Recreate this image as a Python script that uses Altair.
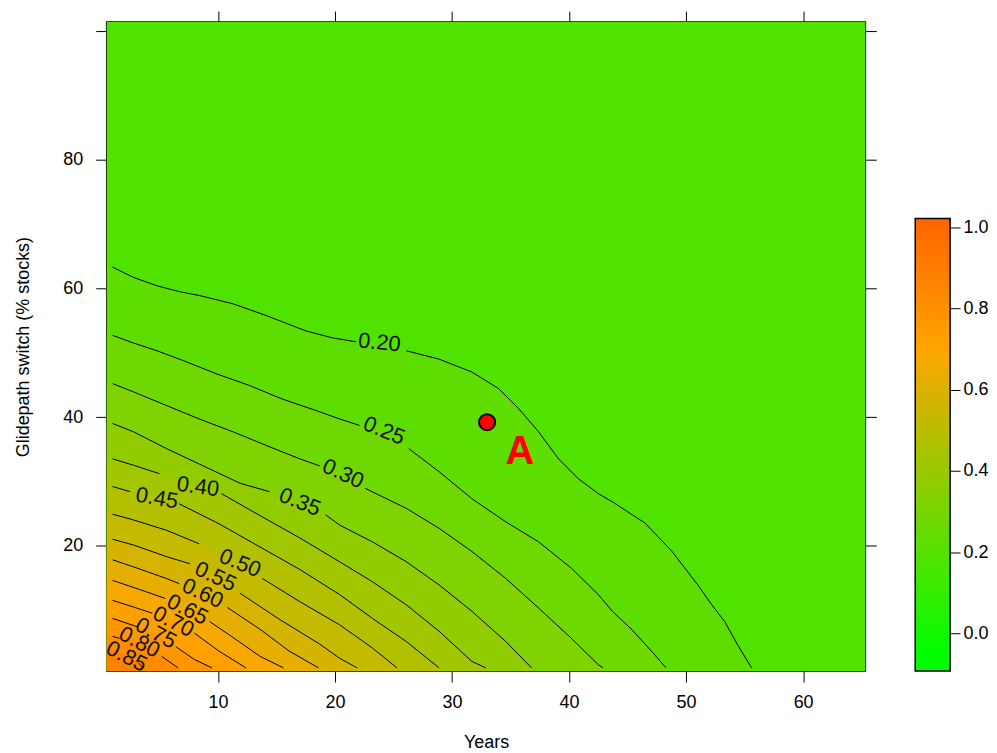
import altair as alt
import pandas as pd

# ---------------- data ----------------
X_MIN, X_MAX = 0.5, 65.32
Y_MIN, Y_MAX = 0.5, 101.4

X_TICKS = [10, 20, 30, 40, 50, 60]
Y_TICKS = [20, 40, 60, 80, 100]
CBAR_TICKS = [0.0, 0.2, 0.4, 0.6, 0.8, 1.0]
CBAR_MIN, CBAR_MAX = -0.093, 1.022

LEVELS = [0.20, 0.25, 0.30, 0.35, 0.40, 0.45, 0.50, 0.55, 0.60, 0.65, 0.70, 0.75, 0.80, 0.85]
BACKGROUND_VALUE = 0.185

# contour lines: x (years), y (% stocks); the point at LABEL_IDX is where the label sits
C020_X = [1.0, 2.8, 4.8, 6.7, 8.4, 11.3, 14.1, 17.5, 19.8, 21.8, 23.8, 26.1, 28.9, 31.7, 34.0, 35.7, 37.4, 39.1, 40.8, 42.5, 43.9, 45.4, 46.5, 47.6, 48.8, 49.9, 51.0, 52.2, 53.3, 54.4, 55.6]
C020_Y = [63.3, 61.7, 60.4, 59.5, 58.9, 57.6, 55.8, 53.4, 52.3, 51.7, 51.6, 50.3, 49.0, 47.0, 44.4, 41.3, 37.7, 33.5, 30.4, 28.1, 26.6, 24.8, 23.5, 21.4, 19.1, 16.5, 13.9, 10.8, 8.2, 4.6, 1.0]
C025_X = [1.0, 2.8, 4.8, 7.0, 9.9, 12.7, 15.5, 18.4, 20.4, 22.1, 24.2, 26.3, 28.9, 31.7, 34.6, 37.4, 40.2, 42.5, 43.7, 45.4, 46.8, 48.3]
C025_Y = [52.7, 51.5, 50.3, 48.8, 46.7, 44.9, 42.8, 41.0, 39.7, 38.7, 37.9, 35.1, 31.5, 27.3, 23.7, 20.6, 16.5, 12.4, 9.8, 6.9, 4.1, 1.0]
C030_X = [1.0, 2.8, 5.6, 8.4, 11.3, 14.1, 17.0, 18.7, 20.7, 22.6, 26.1, 28.9, 31.7, 34.6, 37.4, 40.2, 42.5, 42.9]
C030_Y = [45.2, 43.9, 41.8, 39.7, 37.7, 35.6, 33.5, 32.4, 31.2, 28.9, 25.8, 22.7, 19.1, 14.9, 10.3, 5.6, 1.5, 1.0]
C035_X = [1.0, 2.8, 5.6, 8.4, 11.9, 14.4, 17.0, 19.2, 20.4, 23.2, 26.1, 28.9, 31.7, 34.6, 36.8]
C035_Y = [39.0, 37.7, 35.1, 32.7, 29.7, 28.4, 26.8, 24.8, 23.2, 20.6, 17.5, 13.9, 9.8, 5.1, 1.0]
C040_X = [1.0, 2.8, 5.0, 8.3, 10.3, 12.7, 17.0, 20.4, 23.2, 26.1, 28.9, 31.7, 32.9]
C040_Y = [33.5, 32.5, 31.2, 29.2, 28.1, 25.6, 21.2, 17.5, 14.4, 10.8, 6.7, 2.0, 1.0]
C045_X = [1.0, 2.5, 4.8, 6.7, 10.1, 13.6, 17.0, 20.4, 23.2, 26.1, 28.9]
C045_Y = [29.2, 28.4, 27.4, 26.5, 23.4, 19.8, 16.3, 12.4, 8.7, 5.1, 1.0]
C050_X = [1.0, 2.8, 5.6, 8.4, 11.9, 13.8, 17.0, 20.4, 23.2, 25.3]
C050_Y = [24.9, 24.0, 22.4, 20.3, 17.3, 14.9, 11.3, 7.7, 4.1, 1.0]
C055_X = [1.0, 2.8, 5.6, 7.6, 9.8, 11.9, 15.3, 18.7, 20.4, 21.9]
C055_Y = [21.0, 20.1, 18.3, 17.2, 15.2, 12.6, 8.5, 4.7, 2.5, 1.0]
C060_X = [1.0, 2.8, 5.6, 6.7, 8.7, 10.8, 13.6, 16.1, 18.6]
C060_Y = [17.8, 16.7, 14.9, 14.1, 12.6, 10.4, 7.0, 3.6, 1.0]
C065_X = [1.0, 3.3, 5.5, 7.4, 9.3, 11.0, 13.6, 15.6]
C065_Y = [14.6, 13.2, 11.8, 10.1, 8.2, 6.1, 2.8, 1.0]
C070_X = [1.0, 2.9, 4.4, 6.2, 8.0, 10.1, 12.4]
C070_Y = [11.5, 10.4, 9.5, 8.2, 6.4, 3.6, 1.0]
C075_X = [1.0, 3.1, 4.7, 6.4, 8.0, 9.5]
C075_Y = [8.7, 7.4, 6.4, 4.3, 2.3, 1.0]
C080_X = [1.0, 1.6, 3.3, 5.2, 6.6]
C080_Y = [5.9, 5.6, 5.0, 2.8, 1.0]
C085_X = [1.0, 2.2, 3.2, 3.6]
C085_Y = [3.9, 2.8, 1.8, 1.0]

CONTOURS_X = [C020_X, C025_X, C030_X, C035_X, C040_X, C045_X, C050_X, C055_X, C060_X, C065_X, C070_X, C075_X, C080_X, C085_X]
CONTOURS_Y = [C020_Y, C025_Y, C030_Y, C035_Y, C040_Y, C045_Y, C050_Y, C055_Y, C060_Y, C065_Y, C070_Y, C075_Y, C080_Y, C085_Y]
LABEL_IDX = [10, 10, 8, 6, 3, 2, 4, 4, 4, 3, 3, 2, 2, 1]
LABEL_ANGLE = [6, 22, 25, 22, 8, 10, 22, 25, 25, 27, 27, 28, 28, 27]

POINT_A = (33.0, 39.2)
POINT_A_TEXT = (35.8, 34.6)

# ---------------- styling ----------------
FONT = "Liberation Sans"
color_domain = [CBAR_MIN, -0.05, 0.70, CBAR_MAX]
color_range = ["#00ff00", "#00ff00", "#ffa500", "#ff6400"]
cscale = alt.Scale(domain=color_domain, range=color_range, interpolate="rgb", clamp=True)
xs = alt.Scale(domain=[X_MIN, X_MAX], nice=False, zero=False)
ys = alt.Scale(domain=[Y_MIN, Y_MAX], nice=False, zero=False)

axis_common = dict(grid=False, domain=False, tickColor="black", tickWidth=1,
                   labelFont=FONT, labelFontSize=18, labelColor="black",
                   titleFont=FONT, titleFontSize=18, titleFontWeight="normal", titleColor="black")

# ---------------- build tables ----------------
line_rows, area_frames, label_rows = [], [], []
for lev, xl, yl, li, ang in zip(LEVELS, CONTOURS_X, CONTOURS_Y, LABEL_IDX, LABEL_ANGLE):
    for i, (x, y) in enumerate(zip(xl, yl)):
        if i == li:
            continue
        seg = f"{lev:.2f}-{'a' if i < li else 'b'}"
        line_rows.append(dict(seg=seg, o=i, x=x, y=y))
    label_rows.append(dict(x=xl[li], y=yl[li], lab=f"{lev:.2f}", ang=ang))
    ax = [X_MIN] + list(xl)
    ay = [yl[0]] + list(yl)
    area_frames.append(pd.DataFrame(dict(x=ax, y=ay, v=lev + 0.025)))

lines_df = pd.DataFrame(line_rows)
labels_df = pd.DataFrame(label_rows)
bg_df = pd.DataFrame(dict(x0=[X_MIN], x1=[X_MAX], y0=[Y_MIN], y1=[Y_MAX], v=[BACKGROUND_VALUE]))
pt_df = pd.DataFrame(dict(x=[POINT_A[0]], y=[POINT_A[1]]))
ptxt_df = pd.DataFrame(dict(x=[POINT_A_TEXT[0]], y=[POINT_A_TEXT[1]], t=["A"]))

# ---------------- main panel ----------------
background = alt.Chart(bg_df).mark_rect().encode(
    x=alt.X("x0:Q", scale=xs, axis=alt.Axis(values=X_TICKS, title="Years", orient="bottom", tickSize=11,
                                            labelPadding=12, titlePadding=22, **axis_common)),
    x2="x1:Q",
    y=alt.Y("y0:Q", scale=ys, axis=alt.Axis(values=Y_TICKS, title="Glidepath switch (% stocks)", orient="left",
                                            labelExpr="datum.value == 100 ? '' : datum.label", tickSize=11,
                                            labelPadding=13, titlePadding=30, **axis_common)),
    y2="y1:Q",
    color=alt.Color("v:Q", scale=cscale, legend=None),
)

frame_axes = alt.Chart(bg_df).mark_rect(opacity=0).encode(
    x=alt.X("x0:Q", scale=xs, axis=alt.Axis(values=X_TICKS, orient="top", labels=False, title=None,
                                            tickSize=11, **axis_common)),
    x2="x1:Q",
    y=alt.Y("y0:Q", scale=ys, axis=alt.Axis(values=Y_TICKS, orient="right", labels=False, title=None,
                                            tickSize=11, **axis_common)),
    y2="y1:Q",
)

bands = []
for df in area_frames:
    bands.append(alt.Chart(df).mark_area(clip=True, interpolate="linear").encode(
        x=alt.X("x:Q", scale=xs, axis=None),
        y=alt.Y("y:Q", scale=ys, axis=None, stack=None),
        y2=alt.datum(Y_MIN),
        color=alt.Color("v:Q", scale=cscale, legend=None),
    ))

contours = alt.Chart(lines_df).mark_line(color="black", strokeWidth=1, clip=True).encode(
    x=alt.X("x:Q", scale=xs, axis=None),
    y=alt.Y("y:Q", scale=ys, axis=None),
    detail="seg:N",
    order="o:Q",
)

clabels = alt.Chart(labels_df).mark_text(font=FONT, fontSize=22, color="#111111",
                                         align="center", baseline="middle", clip=True).encode(
    x=alt.X("x:Q", scale=xs, axis=None),
    y=alt.Y("y:Q", scale=ys, axis=None),
    text="lab:N",
    angle=alt.Angle("ang:Q", scale=None),
)

point_a = alt.Chart(pt_df).mark_point(filled=True, fill="#ff0000", stroke="black", strokeWidth=2,
                                      size=260, opacity=1, shape="circle").encode(
    x=alt.X("x:Q", scale=xs, axis=None),
    y=alt.Y("y:Q", scale=ys, axis=None),
)
text_a = alt.Chart(ptxt_df).mark_text(font=FONT, fontSize=40, fontWeight="bold", color="#ff0000",
                                      align="center", baseline="middle").encode(
    x=alt.X("x:Q", scale=xs, axis=None),
    y=alt.Y("y:Q", scale=ys, axis=None),
    text="t:N",
)

main = alt.layer(background, *bands, contours, clabels, point_a, text_a, frame_axes).resolve_axis(
    x="independent", y="independent"
).properties(width=761, height=651, view=alt.ViewBackground(stroke="black", strokeWidth=1.5))

# ---------------- colour bar ----------------
span = CBAR_MAX - CBAR_MIN
stops = [alt.GradientStop(offset=(d - CBAR_MIN) / span, color=c) for d, c in zip(color_domain, color_range)]
cbar_df = pd.DataFrame(dict(x0=[0], x1=[1], y0=[CBAR_MIN], y1=[CBAR_MAX]))
cbar_top = CBAR_MIN + 651 * span / 454.0
cbar = alt.Chart(cbar_df).mark_rect(
    color=alt.LinearGradient(gradient="linear", stops=stops, x1=0, x2=0, y1=1, y2=0),
    stroke="black", strokeWidth=1.5,
).encode(
    x=alt.X("x0:Q", scale=alt.Scale(domain=[0, 1], nice=False), axis=None),
    x2="x1:Q",
    y=alt.Y("y0:Q", scale=alt.Scale(domain=[CBAR_MIN, cbar_top], nice=False, zero=False),
            axis=alt.Axis(values=CBAR_TICKS, format=".1f", orient="right", title=None,
                          tickSize=10, labelPadding=3, **axis_common)),
    y2="y1:Q",
).properties(width=35, height=651, view=alt.ViewBackground(stroke=None))

chart = alt.hconcat(main, cbar, spacing=36).properties(
    padding={"left": 6, "top": 0, "right": 0, "bottom": 0}
).configure_view(stroke=None)

chart.save("out.html", embed_options={"renderer": "svg", "actions": False})
